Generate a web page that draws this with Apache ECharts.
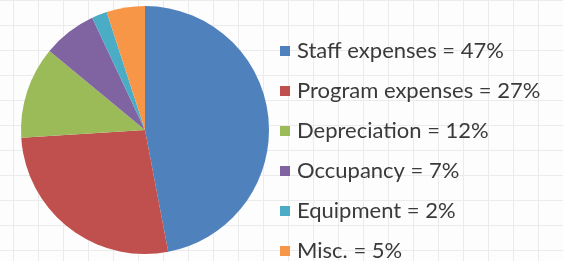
<!DOCTYPE html>
<html>
<head>
<meta charset="utf-8">
<script src="https://cdn.jsdelivr.net/npm/echarts@6/dist/echarts.min.js"></script>
<style>
  html, body { margin: 0; padding: 0; background: #fff; }
  #chart {
    width: 563px;
    height: 261px;
    background-color: #fdfdfd;
    background-image:
      linear-gradient(to right, #ebebeb 1px, transparent 1px),
      linear-gradient(to bottom, #ebebeb 1px, transparent 1px);
    background-size: 25px 25px;
    background-position: 13px 0px;
  }
</style>
</head>
<body>
<div id="chart"></div>
<script>
var categories = ['Staff expenses', 'Program expenses', 'Depreciation', 'Occupancy', 'Equipment', 'Misc.'];
var values = [47, 27, 12, 7, 2, 5];
var colors = ['#4F81BD', '#C0504D', '#9BBB59', '#8064A2', '#4BACC6', '#F79646'];

var myChart = echarts.init(document.getElementById('chart'));

var option = {
  color: colors,
  legend: {
    orient: 'vertical',
    left: 280,
    top: 40,
    height: 250,
    icon: 'rect',
    itemWidth: 10,
    itemHeight: 10,
    itemGap: 18,
    padding: 0,
    textStyle: {
      fontFamily: 'Lato',
      fontSize: 22,
      lineHeight: 22,
      padding: [0, 0, 0, 2],
      color: '#3a3a3a'
    },
    data: categories,
    formatter: function(name) {
      var i = categories.indexOf(name);
      return name + ' = ' + values[i] + '%';
    }
  },
  series: [
    {
      type: 'pie',
      center: [145, 130],
      radius: 124,
      startAngle: 90,
      clockwise: true,
      label: { show: false },
      labelLine: { show: false },
      emphasis: { disabled: true },
      itemStyle: { borderWidth: 0 },
      data: categories.map(function(c, i) {
        return { name: c, value: values[i] };
      })
    }
  ]
};

myChart.setOption(option);
</script>
</body>
</html>
